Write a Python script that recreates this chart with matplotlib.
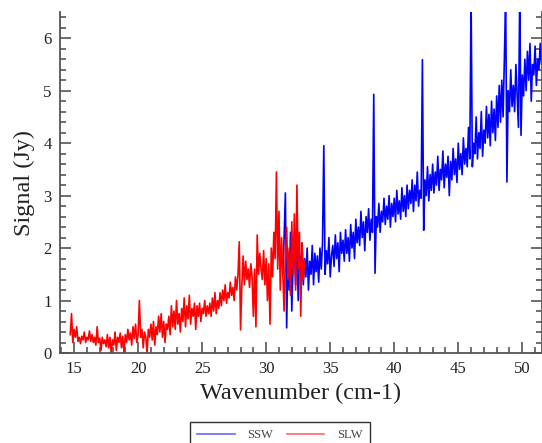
import numpy as np
import matplotlib.pyplot as plt

# SLW detector, sampled every 0.1 cm-1 starting at 14.7
slw_start = 14.7
slw_y = [
    0.35, 0.75, 0.2, 0.45, 0.3, 0.5, 0.22, 0.3, 0.18, 0.32,
    0.25, 0.4, 0.2, 0.3, 0.25, 0.42, 0.22, 0.35, 0.2, 0.3,
    0.15, 0.5, 0.2, 0.28, 0.05, 0.3, 0.18, 0.25, 0.12, 0.35,
    0.1, 0.3, 0.0, 0.25, 0.15, 0.4, 0.05, 0.3, 0.2, 0.38,
    0.1, 0.32, 0.0, 0.35, 0.2, 0.45, 0.25, 0.38, 0.15, 0.5,
    0.28, 0.55, 0.2, 0.35, 1.0, 0.3, 0.45, 0.1, 0.4, 0.3,
    0.0, 0.45, 0.3, 0.55, 0.25, 0.6, 0.15, 0.5, 0.35, 0.7,
    0.4, 0.75, 0.3, 0.6, 0.2, 0.55, 0.45, 0.7, 0.35, 0.9,
    0.5, 0.8, 0.45, 1.0, 0.55, 0.75, 0.4, 0.85, 0.6, 1.05,
    0.5, 0.9, 0.65, 1.1, 0.55, 0.85, 0.7, 0.95, 0.45, 0.9,
    0.7, 0.95, 0.6, 0.85, 0.75, 1.0, 0.7, 0.9, 0.75, 0.95,
    0.7, 1.05, 0.8, 1.15, 0.75, 1.0, 0.85, 1.15, 0.9, 1.2,
    1.0, 1.3, 0.95, 1.15, 1.05, 1.35, 1.1, 1.25, 1.0, 1.45,
    1.2, 1.5, 2.12, 0.44, 1.3, 1.85, 1.3, 1.75, 1.4, 1.6,
    1.25, 1.7, 1.45, 0.7, 1.6, 0.5, 2.25, 1.5, 1.9, 1.6,
    1.4, 1.95, 1.3, 1.8, 1.0, 1.7, 0.55, 2.0, 1.45, 2.3,
    1.8, 3.45, 1.6, 2.7, 1.2, 2.2, 1.5, 0.8, 1.9, 2.4,
    1.4, 2.0, 1.1, 2.5, 1.5, 2.65, 1.2, 3.2, 1.6, 2.3,
    0.7, 2.1, 1.4, 1.75,
]

# SSW detector, sampled every 0.1 cm-1 starting at 31.3
ssw_start = 31.3
ssw_y = [
    1.5, 2.2, 3.05, 0.48, 1.9, 1.2, 2.3, 0.8, 1.7, 2.0,
    1.3, 2.4, 1.0, 1.9, 1.5, 2.1, 1.3, 1.8, 1.45, 2.0,
    1.2, 1.75, 1.5, 2.05, 1.3, 1.9, 1.55, 1.85, 1.35, 2.0,
    1.6, 2.1, 3.95, 1.5, 1.95, 1.7, 2.2, 1.45, 1.85, 2.05,
    1.65, 2.25, 1.8, 2.1, 1.55, 2.3, 1.9, 2.15, 1.75, 2.35,
    1.9, 2.2, 1.75, 2.45, 2.0, 2.3, 1.8, 2.55, 2.1, 2.4,
    2.05, 2.7, 2.2, 2.5, 1.95, 2.6, 2.3, 2.75, 2.15, 2.55,
    2.3, 4.93, 1.52, 2.6, 2.4, 2.85, 2.3, 2.7, 2.5, 2.95,
    2.45, 2.8, 2.55, 3.0, 2.4, 2.85, 2.6, 2.95, 2.5, 3.1,
    2.65, 2.9, 2.55, 3.15, 2.7, 3.0, 2.6, 3.2, 2.75, 3.1,
    2.85, 3.3, 2.7, 3.2, 2.9, 3.45, 2.8, 3.1, 2.95, 5.59,
    2.34, 3.3, 3.0, 3.55, 2.9, 3.4, 3.1, 3.6, 3.05, 3.45,
    3.2, 3.75, 3.1, 3.5, 3.3, 3.85, 3.15, 3.6, 3.35, 3.75,
    3.0, 3.65, 3.3, 3.9, 3.4, 3.7, 3.25, 4.0, 3.5, 3.8,
    3.4, 4.1, 3.6, 3.9, 3.55, 4.3, 3.7, 6.8, 3.55, 4.0,
    3.8, 4.5, 3.7, 4.2, 3.9, 4.6, 3.75, 4.25, 4.0, 4.7,
    4.1, 4.55, 3.95, 4.8, 4.2, 4.65, 4.05, 4.9, 4.3, 5.1,
    4.4, 5.2, 4.5, 5.6, 6.8, 3.26, 5.0, 4.6, 5.4, 4.7,
    5.1, 4.6, 5.5, 4.9, 4.3, 6.8, 4.15, 5.3, 4.9, 5.6,
    5.0, 5.75, 5.2, 5.9, 4.8, 5.5, 5.3, 5.85, 5.1, 5.6,
    5.4, 5.9, 5.5, 5.7,
]

slw_x = slw_start + 0.1 * np.arange(len(slw_y))
ssw_x = ssw_start + 0.1 * np.arange(len(ssw_y))

plt.rcParams["font.family"] = ["Liberation Serif", "DejaVu Serif"]
axis_col = "#555555"

fig = plt.figure(figsize=(5.42, 4.43), dpi=100)
ax = fig.add_axes([60 / 542, 1 - 353 / 443, 481.5 / 542, 341 / 443])

ax.plot(ssw_x, ssw_y, color="#0000ff", lw=1.2, label="SSW")
ax.plot(slw_x, slw_y, color="#ff0000", lw=1.2, label="SLW")

ax.set_xlim(13.9, 51.5)
ax.set_ylim(0, 6.5)
ax.set_xticks([15, 20, 25, 30, 35, 40, 45, 50])
ax.set_xticks(np.arange(14, 52, 1), minor=True)
ax.set_yticks([0, 1, 2, 3, 4, 5, 6])
ax.set_yticks(np.arange(0, 6.5, 0.2), minor=True)

ax.spines["top"].set_visible(False)
for s in ["left", "bottom", "right"]:
    ax.spines[s].set_color(axis_col)
    ax.spines[s].set_linewidth(1.3)

ax.tick_params(which="both", direction="in", color=axis_col, width=1.2,
               right=True, labelsize=12, labelcolor="#222222")
ax.tick_params(which="major", length=8, pad=6)
ax.tick_params(which="minor", length=4.5)

ax.set_xlabel("Wavenumber (cm-1)", fontsize=17.5, color="#222222", labelpad=4)
ax.set_ylabel("Signal (Jy)", fontsize=17.5, color="#222222", labelpad=6)

leg = fig.legend(loc="upper center", bbox_to_anchor=(0.516, 1 - 422 / 443),
                 borderaxespad=0, ncol=2,
                 fontsize=9, frameon=True, fancybox=False, edgecolor="black",
                 handlelength=3.0, handletextpad=1.0, columnspacing=1.1,
                 borderpad=0.6, labelcolor="#444444")
leg.get_frame().set_linewidth(1.0)
for h in leg.get_lines():
    h.set_alpha(0.6)

fig.savefig("out.png", dpi=100)
